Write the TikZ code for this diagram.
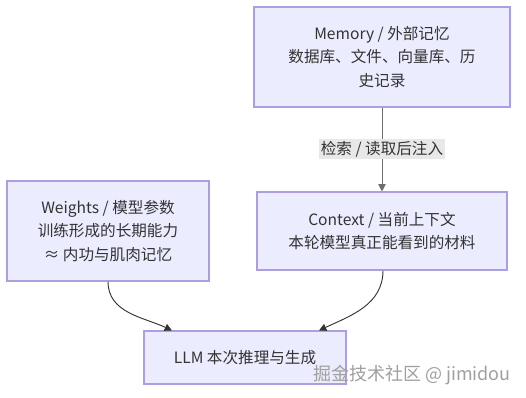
\documentclass[tikz,border=0pt]{standalone}
\usepackage{fontspec}
\setmainfont{Noto Sans CJK SC}
\usetikzlibrary{arrows.meta}
\definecolor{boxfill}{HTML}{ECECFF}
\definecolor{boxline}{HTML}{AC9EE0}
\definecolor{lblfill}{HTML}{E8E8E8}
\definecolor{ink}{HTML}{333333}
\begin{document}
\begin{tikzpicture}[
    x=0.75pt, y=0.75pt,
    box/.style={draw=boxline, fill=boxfill, line width=0.8pt, align=center,
                inner sep=0pt, text=ink, font=\fontsize{11.7}{17.5}\selectfont},
    arr/.style={-{Triangle[length=5.5pt,width=5.5pt]}, line width=0.7pt},
    lbl/.style={fill=lblfill, inner sep=1.5pt, text=ink, font=\fontsize{11.7}{14}\selectfont}
]
    \useasboundingbox (0,0) rectangle (526,-398);

    % upper right: external memory feeds the context
    \node[box, minimum width=192pt, minimum height=75pt] (mem) at (382,-57)
        {Memory / 外部记忆\\数据库、文件、向量库、历\\史记录};
    \node[box, minimum width=187.5pt, minimum height=58.5pt] (ctx) at (382,-231)
        {Context / 当前上下文\\本轮模型真正能看到的材料};

    % left: what the model already carries
    \node[box, minimum width=151.5pt, minimum height=75pt] (wts) at (108,-231)
        {Weights / 模型参数\\训练形成的长期能力\\≈ 内功与肌肉记忆};

    % bottom: the run itself
    \node[box, minimum width=151.5pt, minimum height=39.75pt] (llm) at (245,-357.5)
        {LLM 本次推理与生成};

    \draw[arr, draw=gray!85!black] (mem) -- node[lbl] {检索 / 读取后注入} (ctx);
    \draw[arr, draw=ink] (wts.south) to[out=-90, in=155]
        ([xshift=-54.75pt]llm.north);
    \draw[arr, draw=ink] ([xshift=0.75pt]ctx.south) to[out=-90, in=25]
        ([xshift=55.5pt]llm.north);

    % site watermark
    \node[text=gray!75, font=\fontsize{13.5}{16}\selectfont] (wm) at (412,-375)
        {掘金技术社区 @ jimidou};
\end{tikzpicture}
\end{document}
